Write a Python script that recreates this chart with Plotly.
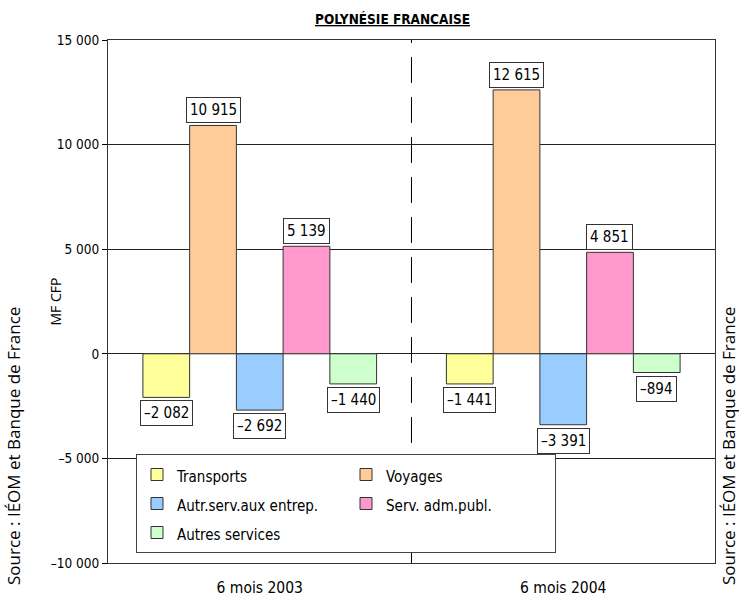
import plotly.graph_objects as go

categories = ["6 mois 2003", "6 mois 2004"]
series_names = ["Transports", "Voyages", "Autr.serv.aux entrep.", "Serv. adm.publ.", "Autres services"]
transports = [-2082, -1441]
voyages = [10915, 12615]
autr_serv = [-2692, -3391]
serv_adm = [5139, 4851]
autres = [-1440, -894]
series_values = [transports, voyages, autr_serv, serv_adm, autres]
series_colors = ["#FFFF99", "#FFCC99", "#99CCFF", "#FF99CC", "#CCFFCC"]
y_tick_vals = [-10000, -5000, 0, 5000, 10000, 15000]
y_tick_text = ["\u201310 000", "\u20135 000", "0", "5 000", "10 000", "15 000"]

NARROW = "Liberation Sans Narrow, DejaVu Sans Condensed, Arial Narrow, sans-serif"
NORMAL = "Open Sans, DejaVu Sans, sans-serif"

W, H = 739, 601
ML, MR, MT, MB = 108, 24, 40, 38
BARGAP = 0.23
plot_w = W - ML - MR
plot_h = H - MT - MB
bar_px = plot_w / len(categories) * (1 - BARGAP) / len(series_names)


def fmt(v):
    s = f"{abs(v):,}".replace(",", " ")
    return ("\u2013" + s) if v < 0 else s


fig = go.Figure()
for name, vals, col in zip(series_names, series_values, series_colors):
    fig.add_trace(go.Bar(
        x=categories, y=vals, name=f'<span style="font-size:15px">{name}</span>',
        marker=dict(color=col, line=dict(color="#333333", width=1)),
    ))

annotations = []
n = len(series_names)
for i, vals in enumerate(series_values):
    for cat, v in zip(categories, vals):
        annotations.append(dict(
            x=cat, y=v, xref="x", yref="y", text=fmt(v), showarrow=False,
            xshift=(i - (n - 1) / 2) * bar_px,
            yanchor="bottom" if v >= 0 else "top",
            yshift=2 if v >= 0 else -3,
            font=dict(family=NARROW, size=15, color="black"),
            bgcolor="white", bordercolor="#333333", borderwidth=1, borderpad=3,
        ))

# title
annotations.append(dict(
    xref="paper", yref="paper", x=(392 - ML) / plot_w, y=(H - MB - 19) / plot_h,
    xanchor="center", yanchor="middle",
    text="<b><u>POLYNÉSIE FRANCAISE</u></b>", showarrow=False,
    font=dict(family=NARROW, size=13.5, color="black"),
))
# y axis title
annotations.append(dict(
    xref="paper", yref="paper", x=(55 - ML) / plot_w, y=0.5, xanchor="center", yanchor="middle",
    text="MF CFP", textangle=-90, showarrow=False,
    font=dict(family=NORMAL, size=14, color="black"),
))
# source texts
for xpx in (14, 729):
    annotations.append(dict(
        xref="paper", yref="paper", x=(xpx - ML) / plot_w, y=(H - MB - 305) / plot_h,
        xanchor="center", yanchor="top",
        text="Source : IÉOM et Banque de France", textangle=-90, showarrow=False,
        font=dict(family=NORMAL, size=17, color="black"),
    ))

fig.update_layout(
    width=W, height=H,
    margin=dict(l=ML, r=MR, t=MT, b=MB, autoexpand=False),
    paper_bgcolor="white", plot_bgcolor="white",
    barmode="group", bargap=BARGAP, bargroupgap=0,
    font=dict(family=NARROW, size=14, color="black"),
    showlegend=True,
    legend=dict(
        orientation="h", x=(136 - ML) / plot_w, xanchor="left",
        y=(H - MB - 454) / plot_h, yanchor="top",
        bgcolor="white", bordercolor="#444444", borderwidth=1,
        entrywidth=164, entrywidthmode="pixels",
        font=dict(family=NARROW, size=20, color="black"),
        traceorder="normal",
    ),
    annotations=annotations,
    shapes=[dict(
        type="line", xref="x", yref="paper", x0=0.5, x1=0.5, y0=0, y1=1,
        line=dict(color="black", width=1, dash="26px,14px"), layer="below",
    )],
)
fig.update_xaxes(
    type="category", showline=True, mirror=True, linecolor="#333333", linewidth=1,
    ticks="", showgrid=False, ticklabelstandoff=10, automargin=False,
    tickfont=dict(family=NARROW, size=15.5, color="black"),
)
fig.update_yaxes(
    range=[-10000, 15000], tickvals=y_tick_vals, ticktext=y_tick_text,
    showline=True, mirror=True, linecolor="#333333", linewidth=1,
    ticks="outside", ticklen=5, tickcolor="black", automargin=False,
    showgrid=True, gridcolor="#222222", gridwidth=1,
    zeroline=True, zerolinecolor="#222222", zerolinewidth=1,
    tickfont=dict(family=NARROW, size=13.5, color="black"),
)

fig.write_html("out.html", config={"displayModeBar": False},
               post_script="document.body.style.margin='0px';")
